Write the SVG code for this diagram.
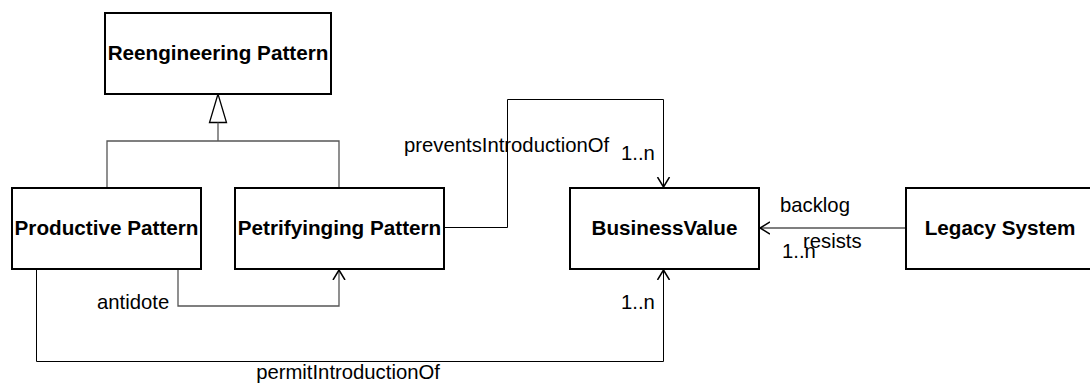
<svg xmlns="http://www.w3.org/2000/svg" width="1090" height="383" viewBox="0 0 1090 383">
<style>
.box{fill:#fff;stroke:#000;stroke-width:2}
.name{font-family:"Liberation Sans",Arial,sans-serif;font-size:20.7px;font-weight:bold;fill:#000;text-anchor:middle}
.lbl{font-family:"Liberation Sans",Arial,sans-serif;font-size:20.3px;fill:#000}
.c{fill:none;stroke:#000;stroke-width:1}
.g{fill:none;stroke:#555;stroke-width:1.3}
</style>
<defs>
<marker id="open" markerWidth="12" markerHeight="18" refX="10" refY="9" orient="auto" markerUnits="userSpaceOnUse">
<path d="M0,3 L10,9 L0,15" fill="none" stroke="#000" stroke-width="1.5"/>
</marker>
</defs>
<g id="connectors">
<polygon points="218,94 209.5,122.5 226.5,122.5" fill="#fff" stroke="#000" stroke-width="1.3"/>
<line x1="218" y1="122.5" x2="218" y2="141" class="g"/>
<polyline points="107,188 107,141 339,141 339,188" class="g"/>
<polyline points="178,269 178,306 339,306 339,270" class="g" marker-end="url(#open)"/>
<polyline points="444,227.5 507.5,227.5 507.5,99.5 663.5,99.5 663.5,187" class="c" marker-end="url(#open)"/>
<polyline points="36.5,269 36.5,361.5 663.5,361.5 663.5,270" class="c" marker-end="url(#open)"/>
<line x1="906" y1="228" x2="760" y2="228" class="g" marker-end="url(#open)"/>
<text class="lbl" x="97" y="309">antidote</text>
<text class="lbl" x="404" y="152">preventsIntroductionOf</text>
<text class="lbl" x="621" y="160">1..n</text>
<text class="lbl" x="621" y="309">1..n</text>
<text class="lbl" x="348" y="379" text-anchor="middle">permitIntroductionOf</text>
<text class="lbl" x="780" y="212">backlog</text>
<text class="lbl" x="803" y="248">resists</text>
<text class="lbl" x="782" y="258">1..n</text>
</g>
<g id="reengineering-pattern">
<rect class="box" x="105" y="13" width="226" height="81"/>
<text class="name" x="218" y="60">Reengineering Pattern</text>
</g>
<g id="productive-pattern">
<rect class="box" x="12" y="188" width="189" height="81"/>
<text class="name" x="106.5" y="235">Productive Pattern</text>
</g>
<g id="petrifying-pattern">
<rect class="box" x="235" y="188" width="209" height="81"/>
<text class="name" x="339.5" y="235">Petrifyinging Pattern</text>
</g>
<g id="business-value">
<rect class="box" x="570" y="188" width="189" height="81"/>
<text class="name" x="664.5" y="235">BusinessValue</text>
</g>
<g id="legacy-system">
<rect class="box" x="906" y="188" width="189" height="81"/>
<text class="name" x="1000" y="235">Legacy System</text>
</g>
</svg>
